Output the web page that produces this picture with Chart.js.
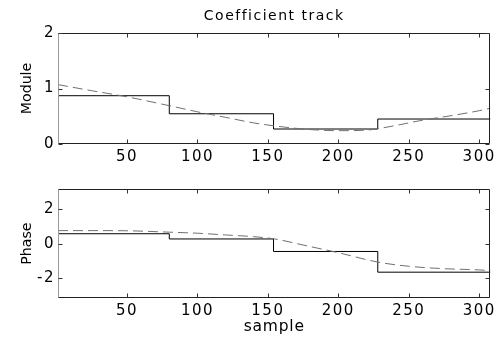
<!DOCTYPE html>
<html>
<head>
<meta charset="utf-8">
<script src="https://cdn.jsdelivr.net/npm/chart.js@4/dist/chart.umd.min.js"></script>
<style>
  html, body { margin: 0; padding: 0; background: #fff; }
  #wrap { position: relative; width: 500px; height: 337px; overflow: hidden; }
  canvas { position: absolute; left: 0; }
  #c1 { top: 0; }
  #c2 { top: 168px; }
</style>
</head>
<body>
<div id="wrap">
  <canvas id="c1" width="500" height="168"></canvas>
  <canvas id="c2" width="500" height="169"></canvas>
</div>
<script>
// ---- data ----
const titleText = 'Coefficient track';
const xLabelText = 'sample';
const moduleLabel = 'Module';
const phaseLabel = 'Phase';
const xMin = 1, xMax = 308;
const xTickValues = [50, 100, 150, 200, 250, 300];
const moduleTickValues = [0, 1, 2];
const phaseTickValues = [-2, 0, 2];

const stepX = [1, 80, 154, 228, 308];
const moduleStep = [0.87, 0.545, 0.27, 0.45, 0.45];
const phaseStep = [0.57, 0.27, -0.45, -1.64, -1.64];

const moduleTrackX = [1, 25, 50, 80, 100, 120, 140, 160, 180, 200, 220, 240, 260, 280, 300, 308];
const moduleTrack  = [1.07, 0.96, 0.85, 0.69, 0.58, 0.48, 0.38, 0.31, 0.26, 0.24, 0.25, 0.33, 0.43, 0.51, 0.60, 0.645];
const phaseTrackX = [1, 25, 50, 80, 100, 120, 140, 155, 175, 200, 228, 250, 275, 300, 308];
const phaseTrack  = [0.75, 0.75, 0.74, 0.66, 0.60, 0.50, 0.40, 0.27, -0.08, -0.52, -1.06, -1.30, -1.44, -1.51, -1.55];

// ---- letter spacing by font size (reference text is horizontally wide) ----
const spacingBySize = { '14': '1.5px', '15': '1.5px', '15.5': '0.8px', '14.2': '0px' };
function patchCtx(ctx) {
  const ft = ctx.fillText.bind(ctx);
  const mt = ctx.measureText.bind(ctx);
  const sp = () => {
    const m = /(\d+(?:\.\d+)?)px/.exec(ctx.font);
    ctx.letterSpacing = (m && spacingBySize[m[1]]) || '0px';
  };
  ctx.fillText = function (t, x, y, w) { sp(); return (w === undefined) ? ft(t, x, y) : ft(t, x, y, w); };
  ctx.measureText = function (t) { sp(); return mt(t); };
}

const FONT = "'DejaVu Sans', 'Liberation Sans', Arial, sans-serif";

const boxPlugin = {
  id: 'matlabBox',
  afterDatasetsDraw(chart) {
    const { ctx, chartArea: a } = chart;
    const xs = chart.scales.x, ys = chart.scales.y;
    ctx.save();
    ctx.letterSpacing = '0px';
    ctx.lineWidth = 1;
    const L = Math.round(a.left) + 0.5, R = Math.round(a.right) - 0.5;
    const T = Math.round(a.top) + 0.5, B = Math.round(a.bottom) - 0.5;
    ctx.strokeStyle = '#9a9a9a';
    ctx.beginPath(); ctx.moveTo(L, T); ctx.lineTo(L, B); ctx.stroke();
    ctx.strokeStyle = '#222';
    ctx.beginPath(); ctx.moveTo(L, T); ctx.lineTo(R, T); ctx.lineTo(R, B); ctx.lineTo(L, B); ctx.stroke();
    const tl = 4;
    ctx.strokeStyle = '#333';
    ctx.beginPath();
    xs.ticks.forEach(t => {
      const px = Math.round(xs.getPixelForValue(t.value)) + 0.5;
      ctx.moveTo(px, B); ctx.lineTo(px, B - tl);
      ctx.moveTo(px, T); ctx.lineTo(px, T + tl);
    });
    ys.ticks.forEach(t => {
      const py = Math.round(ys.getPixelForValue(t.value)) + 0.5;
      ctx.moveTo(L, py); ctx.lineTo(L + tl, py);
      ctx.moveTo(R, py); ctx.lineTo(R - tl, py);
    });
    ctx.stroke();
    ctx.restore();
  }
};

function pts(xa, ya) { return xa.map((x, i) => ({ x: x, y: ya[i] })); }

function makeChart(canvasId, opts) {
  const canvas = document.getElementById(canvasId);
  const ctx = canvas.getContext('2d');
  patchCtx(ctx);
  return new Chart(ctx, {
    type: 'line',
    data: {
      datasets: [
        {
          data: pts(opts.trackX, opts.track),
          borderColor: '#707070',
          borderWidth: 1,
          borderDash: [10, 5],
          pointRadius: 0,
          cubicInterpolationMode: 'monotone',
          fill: false
        },
        {
          data: pts(stepX, opts.step),
          borderColor: '#000',
          borderWidth: 1,
          stepped: 'before',
          pointRadius: 0,
          fill: false
        }
      ]
    },
    options: {
      responsive: false,
      animation: false,
      events: [],
      layout: { padding: opts.padding },
      plugins: {
        legend: { display: false },
        tooltip: { enabled: false },
        title: opts.title ? {
          display: true,
          fullSize: false,
          text: opts.title,
          color: '#000',
          font: { family: FONT, size: 14, weight: 'normal', lineHeight: 1.2 },
          padding: { top: 8.1, bottom: 8.1 }
        } : { display: false }
      },
      scales: {
        x: {
          type: 'linear',
          min: xMin, max: xMax,
          grid: { display: false, drawTicks: false },
          border: { display: false },
          afterBuildTicks: s => { s.ticks = xTickValues.map(v => ({ value: v })); },
          afterFit: s => { s.height = opts.xHeight; },
          ticks: {
            color: '#000', padding: 4, maxRotation: 0, autoSkip: false,
            font: { family: FONT, size: 15, lineHeight: 1.2 },
            callback: v => String(v)
          },
          title: opts.xTitle ? {
            display: true, text: opts.xTitle, color: '#000',
            font: { family: FONT, size: 15.5, lineHeight: 1.2 },
            padding: { top: 0, bottom: 1 }
          } : { display: false }
        },
        y: {
          type: 'linear',
          min: opts.yMin, max: opts.yMax,
          grid: { display: false, drawTicks: false },
          border: { display: false },
          afterBuildTicks: s => { s.ticks = opts.yTicks.map(v => ({ value: v })); },
          afterFit: s => { s.width = 58; },
          ticks: {
            color: '#000', padding: 3,
            font: { family: FONT, size: 15, lineHeight: 1.2 },
            callback: v => String(v)
          },
          title: {
            display: true, text: opts.yTitle, color: '#000',
            font: { family: FONT, size: 14.2, lineHeight: 1.2 },
            padding: { top: 18.5, bottom: 18.5 }
          }
        }
      }
    },
    plugins: [boxPlugin]
  });
}

makeChart('c1', {
  trackX: moduleTrackX, track: moduleTrack, step: moduleStep,
  yMin: 0, yMax: 2, yTicks: moduleTickValues, yTitle: moduleLabel,
  title: titleText, xTitle: null, xHeight: 24,
  padding: { left: 0, right: 9, top: 0, bottom: 0 }
});

makeChart('c2', {
  trackX: phaseTrackX, track: phaseTrack, step: phaseStep,
  yMin: -Math.PI, yMax: Math.PI, yTicks: phaseTickValues, yTitle: phaseLabel,
  title: null, xTitle: xLabelText, xHeight: 38.7,
  padding: { left: 0, right: 9, top: 21, bottom: 0 }
});
</script>
</body>
</html>
